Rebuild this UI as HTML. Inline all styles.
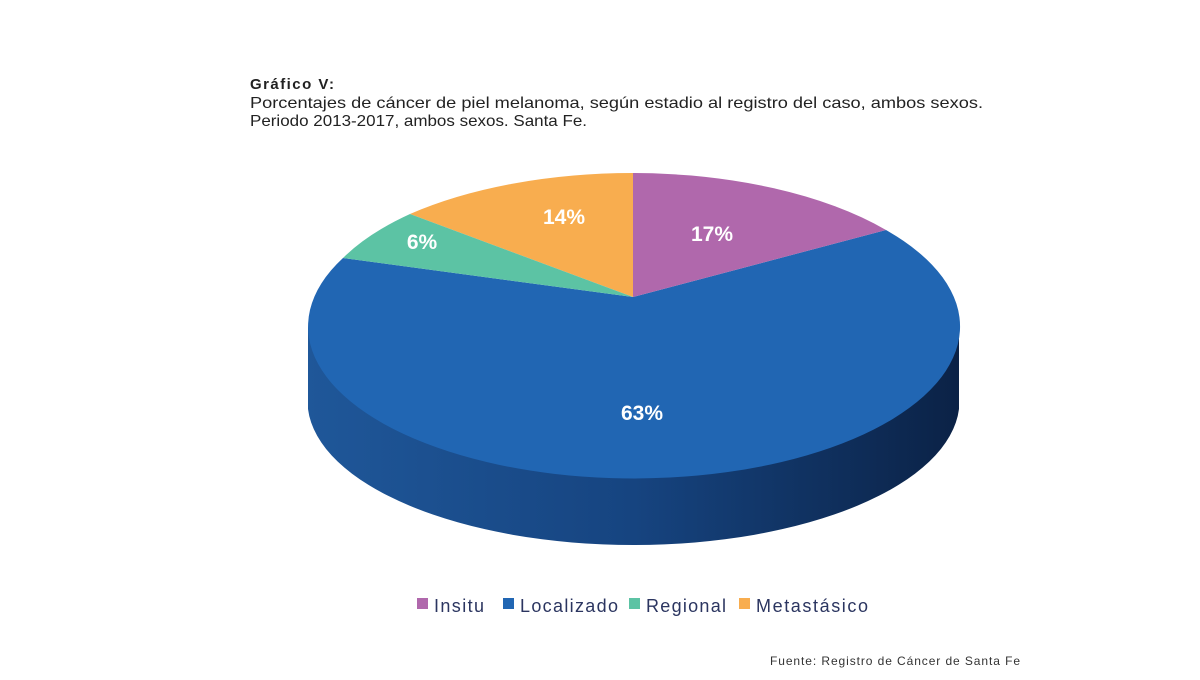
<!DOCTYPE html>
<html><head><meta charset="utf-8"><style>
body{margin:0;width:1200px;height:675px;background:#fff;overflow:hidden;font-family:"Liberation Sans",sans-serif}
</style></head><body>
<svg width="1200" height="675" viewBox="0 0 1200 675" xmlns="http://www.w3.org/2000/svg">
<defs>
<linearGradient id="side" x1="0" x2="1" y1="0" y2="0">
<stop offset="0" stop-color="#1f5799"/>
<stop offset="0.5" stop-color="#164480"/>
<stop offset="1" stop-color="#0b2246"/>
</linearGradient>
</defs>
<text x="250" y="89" font-size="15" font-weight="bold" fill="#222" textLength="84">Gráfico V:</text>
<text x="250" y="108" font-size="16" fill="#222" textLength="733" lengthAdjust="spacingAndGlyphs">Porcentajes de cáncer de piel melanoma, según estadio al registro del caso, ambos sexos.</text>
<text x="250" y="126" font-size="16" fill="#222" textLength="337" lengthAdjust="spacingAndGlyphs">Periodo 2013-2017, ambos sexos. Santa Fe.</text>

<path d="M308,325 A326,152 0 0 0 959,325 L959,409 A326,144 0 0 1 308,409 Z" fill="url(#side)"/>
<path d="M633,297 L886,230 A326,152 0 1 1 343,258 Z" fill="#2166b3"/>
<path d="M633,297 L633,173 A326,152 0 0 1 886,230 Z" fill="#b068ac"/>
<path d="M633,297 L410,214 A326,152 0 0 1 633,173 Z" fill="#f8ad4f"/>
<path d="M633,297 L343,258 A326,152 0 0 1 410,214 Z" fill="#5cc3a4"/>

<g fill="#fff" font-size="21" font-weight="bold" text-anchor="middle">
<text x="712" y="241">17%</text>
<text x="564" y="224">14%</text>
<text x="422" y="249">6%</text>
<text x="642" y="420">63%</text>
</g>

<g font-size="18" fill="#2b3560">
<rect x="417" y="598" width="11" height="11" fill="#b068ac"/><text x="434" y="612" textLength="50">Insitu</text>
<rect x="503" y="598" width="11" height="11" fill="#2166b3"/><text x="520" y="612" textLength="98">Localizado</text>
<rect x="629" y="598" width="11" height="11" fill="#5cc3a4"/><text x="646" y="612" textLength="80">Regional</text>
<rect x="739" y="598" width="11" height="11" fill="#f8ad4f"/><text x="756" y="612" textLength="112">Metastásico</text>
</g>
<text x="770" y="665" font-size="12" fill="#333" textLength="250">Fuente: Registro de Cáncer de Santa Fe</text>
</svg>
</body></html>
